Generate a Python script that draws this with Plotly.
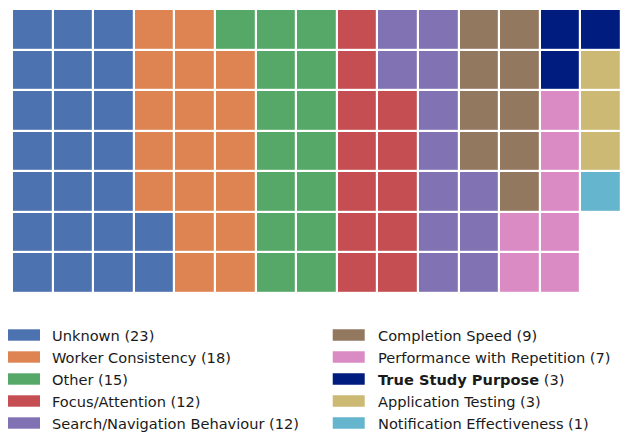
import plotly.graph_objects as go

categories = ["Unknown", "Worker Consistency", "Other", "Focus/Attention",
              "Search/Navigation Behaviour", "Completion Speed",
              "Performance with Repetition", "True Study Purpose",
              "Application Testing", "Notification Effectiveness"]
counts = [23, 18, 15, 12, 12, 9, 7, 3, 3, 1]
colors = ["#4C72B0", "#DD8452", "#55A868", "#C44E52", "#8172B3",
          "#937860", "#DA8BC3", "#001C7F", "#CCB974", "#64B5CD"]
highlight = "True Study Purpose"

n_rows, n_cols = 7, 15

# Build grid: snake fill by columns (odd columns top-down, even bottom-up)
seq = []
for i, c in enumerate(counts):
    seq += [i] * c
z = [[None] * n_cols for _ in range(n_rows)]
k = 0
for col in range(n_cols):
    rows = range(n_rows) if col % 2 == 0 else range(n_rows - 1, -1, -1)
    for r in rows:
        if k < len(seq):
            z[r][col] = seq[k]
            k += 1

nc = len(categories)
colorscale = []
for i, c in enumerate(colors):
    colorscale.append([i / nc, c])
    colorscale.append([(i + 1) / nc, c])

W, H = 624, 436
L, R, T, B = 12, 2.5, 9, 143

fig = go.Figure(go.Heatmap(
    z=z, x=list(range(n_cols)), y=list(range(n_rows)),
    colorscale=colorscale, zmin=-0.5, zmax=nc - 0.5,
    showscale=False, xgap=2.2, ygap=2.2, hoverinfo="skip"))

pw, ph = W - L - R, H - T - B


def px(x):
    return (x - L) / pw


def py(y):
    return 1 - (y - T) / ph


shapes, annots = [], []
row_y = [335, 357, 379, 401, 423]
col_sw = [(8, 40, 50), (333, 365, 376.5)]
for i, (cat, cnt, col) in enumerate(zip(categories, counts, colors)):
    ci, ri = divmod(i, 5)
    x0, x1, xt = col_sw[ci]
    yc = row_y[ri]
    shapes.append(dict(type="rect", xref="paper", yref="paper",
                       x0=px(x0), x1=px(x1), y0=py(yc - 5.7), y1=py(yc + 5.7),
                       fillcolor=col, line=dict(width=0), layer="above"))
    label = f"<b>{cat}</b> ({cnt})" if cat == highlight else f"{cat} ({cnt})"
    annots.append(dict(xref="paper", yref="paper", x=px(xt), y=py(yc),
                       xanchor="left", yanchor="middle", text=label,
                       showarrow=False,
                       font=dict(family="DejaVu Sans", size=14.6, color="#1a1a1a")))

fig.update_layout(
    width=W, height=H,
    margin=dict(l=L, r=R, t=T, b=B, pad=0),
    plot_bgcolor="white", paper_bgcolor="white",
    xaxis=dict(visible=False, range=[-0.5, n_cols - 0.5], fixedrange=True),
    yaxis=dict(visible=False, range=[n_rows - 0.5, -0.5], fixedrange=True),
    shapes=shapes, annotations=annots, showlegend=False,
)

fig.write_html("out.html", config={"displayModeBar": False},
               post_script="document.body.style.margin='0';document.body.style.overflow='hidden';")
